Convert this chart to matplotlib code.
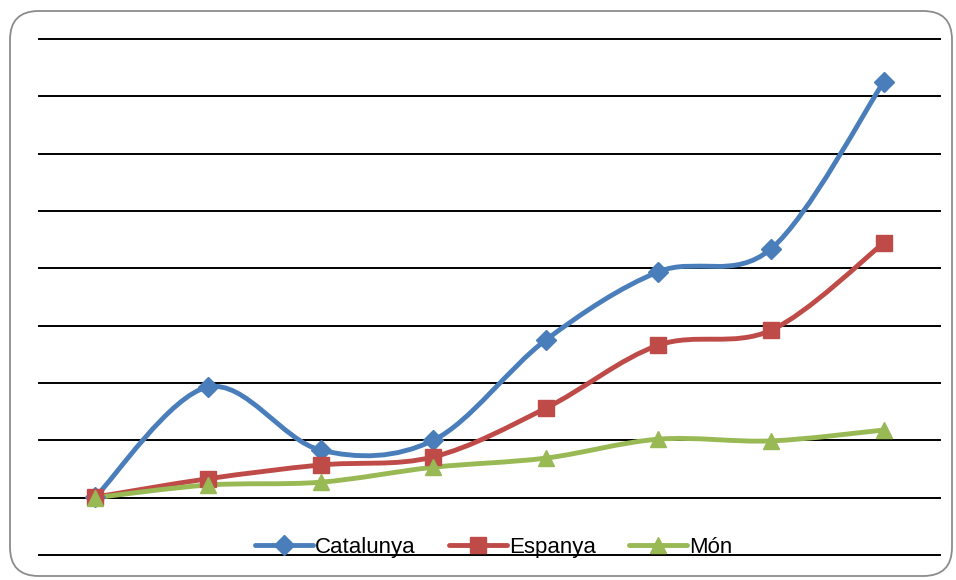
import matplotlib
matplotlib.use('Agg')
import matplotlib.pyplot as plt
import numpy as np
from matplotlib.path import Path
from matplotlib.patches import PathPatch, FancyBboxPatch
from matplotlib.lines import Line2D

# index values per period (gridline = 1 unit)
periods = list(range(8))
catalunya = [1.01, 2.93, 1.83, 2.00, 3.75, 4.94, 5.34, 8.25]
espanya = [1.01, 1.33, 1.57, 1.71, 2.56, 3.66, 3.92, 5.44]
mon = [1.00, 1.22, 1.27, 1.53, 1.69, 2.02, 1.99, 2.18]

names = ['Catalunya', 'Espanya', 'Món']
colors = ['#4A7EBB', '#BE4B48', '#98B954']
markers = ['D', 's', '^']
msizes = [10, 11, 12]


def smooth_path(xs, ys):
    # bezier segments with catmull-rom style control points (like excel smoothing)
    pts = np.column_stack([xs, ys]).astype(float)
    n = len(pts)
    verts = [pts[0]]
    codes = [Path.MOVETO]
    for i in range(n - 1):
        p0 = pts[i - 1] if i > 0 else pts[i]
        p1 = pts[i]
        p2 = pts[i + 1]
        p3 = pts[i + 2] if i + 2 < n else pts[i + 1]
        c1 = p1 + (p2 - p0) / 6.0
        c2 = p2 - (p3 - p1) / 6.0
        verts += [c1, c2, p2]
        codes += [Path.CURVE4] * 3
    return Path(verts, codes)


fig = plt.figure(figsize=(9.56, 5.8), dpi=100)

# rounded chart frame
frame = FancyBboxPatch((10 / 956, 4 / 580), 942 / 956, 565 / 580,
                       boxstyle='round,pad=0,rounding_size=0.03',
                       transform=fig.transFigure, facecolor='white',
                       edgecolor='#8C8C8C', linewidth=1.3,
                       mutation_aspect=956 / 580, zorder=-10)
fig.patches.append(frame)

ax = fig.add_axes([39 / 956, 1 - 555 / 580, 901 / 956, 516 / 580])
ax.set_facecolor('none')
ax.set_xlim(-0.5, 7.5)
ax.set_ylim(0, 9)
for s in ax.spines.values():
    s.set_visible(False)
ax.set_xticks([])
ax.set_yticks([])
for g in range(10):
    ax.axhline(g, color='black', linewidth=1.4, zorder=1, clip_on=False)

handles = []
for vals, name, c, m, ms in zip([catalunya, espanya, mon], names, colors, markers, msizes):
    ax.add_patch(PathPatch(smooth_path(periods, vals), facecolor='none',
                           edgecolor=c, linewidth=3.5, zorder=3, capstyle='round'))
    ax.plot(periods, vals, linestyle='none', marker=m, markersize=ms,
            color=c, zorder=4, clip_on=False)
    handles.append(Line2D([], [], color=c, linewidth=3.5, marker=m, markersize=ms,
                          solid_capstyle='round'))

leg = ax.legend(handles, names, loc='center', bbox_to_anchor=(0.505, 0.014), ncol=3,
                frameon=False, handlelength=2.6, handletextpad=0.1,
                columnspacing=1.5, borderpad=0, prop={'family': 'Liberation Sans', 'size': 16})

fig.savefig('out.png', dpi=100)
